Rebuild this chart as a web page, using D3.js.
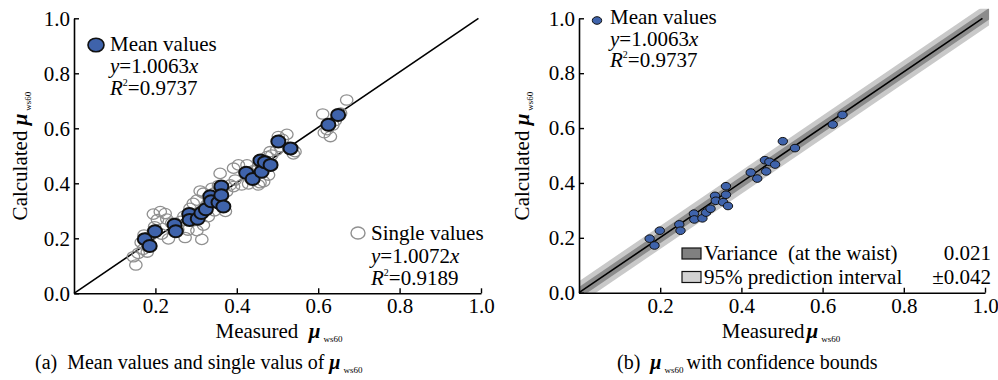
<!DOCTYPE html>
<html>
<head>
<meta charset="utf-8">
<script src="https://cdn.jsdelivr.net/npm/d3@7"></script>
<style>
  html, body { margin: 0; padding: 0; background: #fff; }
</style>
</head>
<body>
<svg id="chart" width="998" height="380"></svg>
<script>
// mean values (same set in both panels)
const meanX = [0.174, 0.186, 0.199, 0.247, 0.250, 0.283, 0.284, 0.304, 0.313, 0.324, 0.335, 0.337, 0.355,
  0.362, 0.362, 0.367, 0.423, 0.439, 0.458, 0.461, 0.469, 0.483, 0.502, 0.532, 0.625, 0.649];
const meanY = [0.197, 0.172, 0.226, 0.249, 0.226, 0.288, 0.267, 0.271, 0.292, 0.306, 0.353, 0.335, 0.330,
  0.388, 0.357, 0.316, 0.438, 0.416, 0.483, 0.442, 0.477, 0.467, 0.552, 0.527, 0.613, 0.648];

// single values (left panel only)
const singleX = [0.152, 0.158, 0.146, 0.170, 0.180, 0.165, 0.185, 0.195, 0.212, 0.224, 0.205, 0.228, 0.198,
  0.215, 0.232, 0.255, 0.240, 0.273, 0.280, 0.302, 0.314, 0.318, 0.270, 0.285, 0.293, 0.302, 0.310, 0.318,
  0.300, 0.330, 0.325, 0.339, 0.345, 0.352, 0.367, 0.372, 0.359, 0.384, 0.392, 0.396, 0.375, 0.392, 0.404,
  0.412, 0.425, 0.429, 0.440, 0.453, 0.457, 0.466, 0.478, 0.453, 0.470, 0.474, 0.482, 0.486, 0.498, 0.502,
  0.512, 0.523, 0.507, 0.539, 0.543, 0.528, 0.611, 0.615, 0.630, 0.622, 0.642, 0.670, 0.655, 0.636, 0.345,
  0.355, 0.262, 0.172];
const singleY = [0.103, 0.145, 0.133, 0.160, 0.150, 0.185, 0.205, 0.288, 0.297, 0.290, 0.268, 0.270, 0.242,
  0.215, 0.198, 0.232, 0.255, 0.203, 0.230, 0.228, 0.196, 0.248, 0.280, 0.309, 0.327, 0.339, 0.372, 0.364,
  0.290, 0.279, 0.320, 0.382, 0.300, 0.345, 0.315, 0.298, 0.436, 0.394, 0.388, 0.412, 0.370, 0.455, 0.467,
  0.394, 0.467, 0.398, 0.445, 0.394, 0.402, 0.406, 0.430, 0.462, 0.480, 0.497, 0.515, 0.503, 0.521, 0.570,
  0.560, 0.578, 0.533, 0.507, 0.515, 0.530, 0.652, 0.584, 0.570, 0.595, 0.628, 0.703, 0.655, 0.612, 0.365,
  0.392, 0.262, 0.212];

const xTicks = [0.2, 0.4, 0.6, 0.8, 1.0];
const yTicks = [0.0, 0.2, 0.4, 0.6, 0.8, 1.0];

const meanFit = { slope: 1.0063, r2: '0.9737' };
const singleFit = { slope: 1.0072, r2: '0.9189' };
const bandHalfWidths = [0.042, 0.021]; // 95% prediction interval, variance at the waist

const FONT = '"Liberation Serif"';
const svg = d3.select('#chart');
const blue = '#3f63ab';
const fmt = d3.format('.1f');

function addText(sel) {
  return sel.append('text').attr('font-family', FONT);
}

function drawPanel(cfg) {
  const x = d3.scaleLinear().domain([0, 1]).range(cfg.xRange);
  const y = d3.scaleLinear().domain([0, 1]).range(cfg.yRange);
  const g = svg.append('g').attr('font-family', FONT);

  if (cfg.bands) {
    const clipId = 'clip-' + cfg.id;
    g.append('clipPath').attr('id', clipId)
      .append('rect')
      .attr('x', x(0)).attr('y', y(1.035))
      .attr('width', x(1.01) - x(0)).attr('height', y(0) - y(1.035));
    const bandColors = ['#c9c9c9', '#8c8c8c'];
    bandHalfWidths.forEach((w, i) => {
      const area = d3.area()
        .x(d => x(d))
        .y0(d => y(meanFit.slope * d - w))
        .y1(d => y(meanFit.slope * d + w));
      g.append('path')
        .datum([0, 1.02])
        .attr('clip-path', `url(#${clipId})`)
        .attr('fill', bandColors[i])
        .attr('d', area);
    });
  }

  // fit line
  g.append('line')
    .attr('x1', x(0)).attr('y1', y(0))
    .attr('x2', x(1 / meanFit.slope)).attr('y2', y(1))
    .attr('stroke', '#000').attr('stroke-width', 1.6);

  if (cfg.singles) {
    g.append('g').selectAll('ellipse')
      .data(d3.range(singleX.length))
      .join('ellipse')
      .attr('cx', i => x(singleX[i]))
      .attr('cy', i => y(singleY[i]))
      .attr('rx', 6.2).attr('ry', 5.2)
      .attr('fill', 'none')
      .attr('stroke', '#909090')
      .attr('stroke-width', 1.3);
  }

  g.append('g').selectAll('ellipse')
    .data(d3.range(meanX.length))
    .join('ellipse')
    .attr('cx', i => x(meanX[i]))
    .attr('cy', i => y(meanY[i]))
    .attr('rx', cfg.meanR[0]).attr('ry', cfg.meanR[1])
    .attr('fill', blue)
    .attr('stroke', '#111')
    .attr('stroke-width', cfg.meanStroke);

  // axes
  const xAxis = d3.axisBottom(x).tickValues(xTicks).tickFormat(fmt).tickSizeInner(-5).tickSizeOuter(0).tickPadding(5);
  const yAxis = d3.axisLeft(y).tickValues(yTicks).tickFormat(fmt).tickSizeInner(-5).tickSizeOuter(0).tickPadding(4);
  [[xAxis, `translate(0,${y(0)})`], [yAxis, `translate(${x(0)},0)`]].forEach(([axis, tr]) => {
    const a = g.append('g').attr('transform', tr).call(axis)
      .attr('font-family', FONT).attr('font-size', 21);
    a.select('.domain').attr('stroke', '#000').attr('stroke-width', 1.6);
    a.selectAll('.tick line').attr('stroke', '#000').attr('stroke-width', 1.4);
    a.selectAll('.tick text').attr('fill', '#000').attr('font-family', FONT);
  });

  // axis titles
  const xt = addText(g).attr('x', cfg.xTitleX).attr('y', 338).attr('text-anchor', 'middle').attr('font-size', 21);
  xt.append('tspan').text(cfg.xTitleSpace ? 'Measured\u00a0\u00a0' : 'Measured');
  xt.append('tspan').text('μ').attr('font-style', 'italic').attr('font-weight', 'bold')
    .attr('dx', cfg.xTitleSpace ? 0 : 2);
  xt.append('tspan').text('ws60').attr('font-size', 9).attr('dx', 3).attr('dy', 4);

  const yt = addText(g).attr('transform', `translate(${cfg.yTitleX},156) rotate(-90)`)
    .attr('text-anchor', 'middle').attr('font-size', 21);
  yt.append('tspan').text('Calculated\u00a0');
  yt.append('tspan').text('μ').attr('font-style', 'italic').attr('font-weight', 'bold');
  yt.append('tspan').text('ws60').attr('font-size', 9).attr('dx', 3).attr('dy', 4);

  return { g, x, y };
}

function fitLegend(g, lx, baseY, label, fit, markerFn, gap) {
  markerFn();
  const t = g.append('g').attr('font-size', 21).attr('font-family', FONT);
  addText(t).attr('x', lx).attr('y', baseY).text(label);
  const eq = addText(t).attr('x', lx).attr('y', baseY + gap);
  eq.append('tspan').text('y').attr('font-style', 'italic');
  eq.append('tspan').text('=' + fit.slope.toFixed(4));
  eq.append('tspan').text('x').attr('font-style', 'italic');
  const r = addText(t).attr('x', lx).attr('y', baseY + 2 * gap);
  r.append('tspan').text('R').attr('font-style', 'italic');
  r.append('tspan').text('2').attr('font-size', 10).attr('dy', -9);
  r.append('tspan').text('=' + fit.r2).attr('dy', 9);
}

// ---- panel (a)
const left = drawPanel({
  id: 'a', xRange: [74, 481], yRange: [293.3, 18.3], singles: true, bands: false,
  meanR: [7, 6], meanStroke: 2, xTitleX: 279, xTitleSpace: true, yTitleX: 27
});
fitLegend(left.g, 110, 51, 'Mean values', meanFit, () => {
  left.g.append('ellipse').attr('cx', 96).attr('cy', 45).attr('rx', 8).attr('ry', 6.8)
    .attr('fill', blue).attr('stroke', '#111').attr('stroke-width', 1.6);
}, 22);
fitLegend(left.g, 371, 240, 'Single values', singleFit, () => {
  left.g.append('ellipse').attr('cx', 358).attr('cy', 233).attr('rx', 7).attr('ry', 6)
    .attr('fill', 'none').attr('stroke', '#909090').attr('stroke-width', 1.4);
}, 22.5);

// ---- panel (b)
const right = drawPanel({
  id: 'b', xRange: [579, 985], yRange: [292.7, 18.3], singles: false, bands: true,
  meanR: [4.7, 3.8], meanStroke: 1, xTitleX: 781, xTitleSpace: false, yTitleX: 529
});
fitLegend(right.g, 610, 24, 'Mean values', meanFit, () => {
  right.g.append('ellipse').attr('cx', 597).attr('cy', 20.5).attr('rx', 4.7).attr('ry', 3.8)
    .attr('fill', blue).attr('stroke', '#111').attr('stroke-width', 1);
}, 21.5);

const bandLegend = [
  { label: 'Variance\u00a0\u00a0(at the waist)', value: '0.021', fill: '#808080', y: 260 },
  { label: '95% prediction interval', value: '±0.042', fill: '#d2d2d2', y: 283.5 }
];
bandLegend.forEach(d => {
  right.g.append('rect').attr('x', 682).attr('y', d.y - 12).attr('width', 19).attr('height', 11)
    .attr('fill', d.fill).attr('stroke', '#111').attr('stroke-width', 1.2);
  addText(right.g).attr('x', 704).attr('y', d.y).attr('font-size', 21).text(d.label);
  addText(right.g).attr('x', 991).attr('y', d.y).attr('text-anchor', 'end')
    .attr('font-size', 21).text(d.value);
});

// captions
const capA = addText(svg).attr('x', 35).attr('y', 369).attr('font-size', 20);
capA.append('tspan').text('(a)\u00a0\u00a0Mean values and single valus of\u00a0');
capA.append('tspan').text('μ').attr('font-style', 'italic').attr('font-weight', 'bold');
capA.append('tspan').text('ws60').attr('font-size', 9).attr('dx', 3).attr('dy', 4);

const capB = addText(svg).attr('x', 617).attr('y', 369).attr('font-size', 20);
capB.append('tspan').text('(b)\u00a0\u00a0');
capB.append('tspan').text('μ').attr('font-style', 'italic').attr('font-weight', 'bold');
capB.append('tspan').text('ws60').attr('font-size', 9).attr('dx', 3).attr('dy', 4);
capB.append('tspan').text('with confidence bounds').attr('dx', 3).attr('dy', -4);
</script>
</body>
</html>
